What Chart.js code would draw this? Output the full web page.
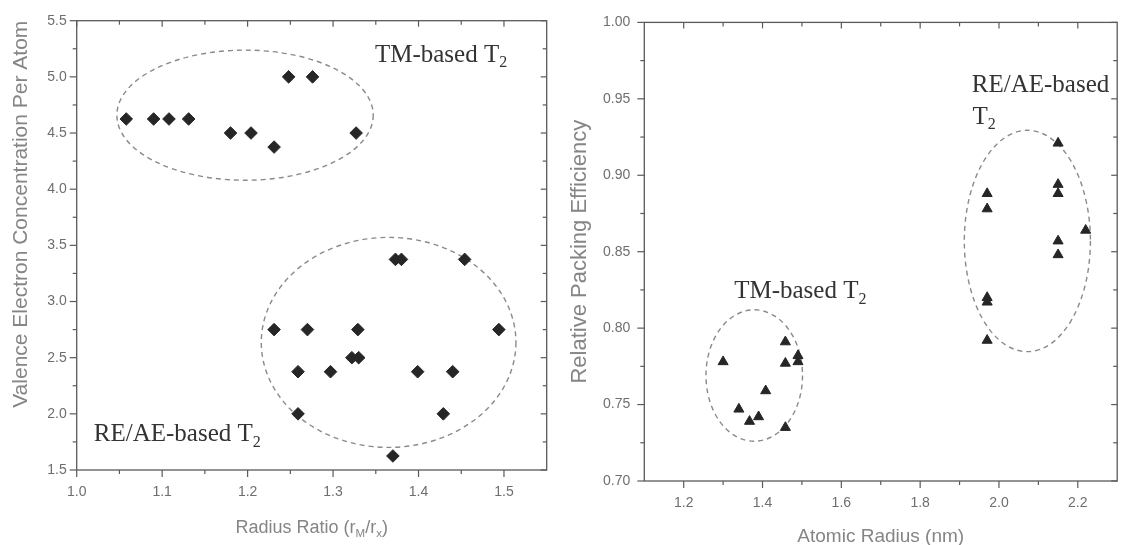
<!DOCTYPE html>
<html><head><meta charset="utf-8">
<script src="https://cdn.jsdelivr.net/npm/chart.js@4/dist/chart.umd.min.js"></script>
<style>
html,body{margin:0;padding:0;background:#fff;}
#wrap{position:relative;width:1124px;height:545px;overflow:hidden;}
canvas{position:absolute;top:0;}
#c1{left:0}
#c2{left:560px}
</style></head><body>
<div id="wrap"><canvas id="c1" width="560" height="545"></canvas><canvas id="c2" width="564" height="545"></canvas></div>
<script>
// ---------- DATA ----------
// Left panel: radius ratio vs valence electron concentration
const leftTMx = [1.058, 1.090, 1.108, 1.131, 1.180, 1.204, 1.231, 1.248, 1.276, 1.327];
const leftTMy = [4.625, 4.625, 4.625, 4.625, 4.5, 4.5, 4.375, 5.0, 5.0, 4.5];
const leftREx = [1.231, 1.270, 1.329, 1.494, 1.373, 1.380, 1.454, 1.322, 1.330, 1.259, 1.297, 1.399, 1.440, 1.259, 1.429, 1.370];
const leftREy = [2.75, 2.75, 2.75, 2.75, 3.375, 3.375, 3.375, 2.5, 2.5, 2.375, 2.375, 2.375, 2.375, 2.0, 2.0, 1.625];
const leftXTicks = [1.0, 1.1, 1.2, 1.3, 1.4, 1.5];
const leftYTicks = [1.5, 2.0, 2.5, 3.0, 3.5, 4.0, 4.5, 5.0, 5.5];

// Right panel: atomic radius vs relative packing efficiency
const rightTMx = [1.30, 1.34, 1.367, 1.39, 1.408, 1.458, 1.458, 1.458, 1.49, 1.49];
const rightTMy = [0.778, 0.747, 0.739, 0.742, 0.759, 0.791, 0.777, 0.735, 0.782, 0.778];
const rightREx = [1.97, 1.97, 1.97, 1.97, 1.97, 2.15, 2.15, 2.15, 2.15, 2.15, 2.22];
const rightREy = [0.888, 0.878, 0.820, 0.817, 0.792, 0.921, 0.894, 0.888, 0.857, 0.848, 0.864];
const rightXTicks = [1.2, 1.4, 1.6, 1.8, 2.0, 2.2];
const rightYTicks = [0.70, 0.75, 0.80, 0.85, 0.90, 0.95, 1.00];

// ---------- STYLE ----------
const SANS = "'Liberation Sans', Arial, sans-serif";
const SERIF = "'Liberation Serif', 'Times New Roman', serif";
const AXIS_COLOR = '#5a5a5a';
const TICK_TEXT = '#6e6e6e';
const TITLE_TEXT = '#858585';
const NOTE_TEXT = '#333333';
const MARK = '#262626';

function pts(xs, ys){ return xs.map((x,i)=>({x:x, y:ys[i]})); }

function drawRich(ctx, x, y, parts, size, family, color, align){
  ctx.save();
  ctx.fillStyle = color; ctx.textBaseline = 'alphabetic'; ctx.textAlign = 'left';
  let total = 0;
  for (const p of parts){
    ctx.font = (p.sub ? size*0.64 : size) + 'px ' + family;
    total += ctx.measureText(p.t).width;
  }
  let cx = align === 'center' ? x - total/2 : x;
  for (const p of parts){
    const s = p.sub ? size*0.64 : size;
    ctx.font = s + 'px ' + family;
    ctx.fillText(p.t, cx, y + (p.sub ? size*0.22 : 0));
    cx += ctx.measureText(p.t).width;
  }
  ctx.restore();
}

function minors(majors, min, max){
  const out = [];
  const step = majors[1]-majors[0];
  const cand = [majors[0]-step/2];
  for (let i=0;i<majors.length;i++) cand.push(majors[i]+step/2);
  for (const v of cand) if (v > min + 1e-9 && v < max - 1e-9) out.push(v);
  return out;
}

const ellipsePlugin = {
  id:'ellipses',
  beforeDatasetsDraw(chart, args, o){
    const {ctx, scales:{x,y}} = chart;
    ctx.save();
    ctx.strokeStyle = o.color; ctx.lineWidth = o.width; ctx.setLineDash(o.dash);
    for (const e of o.items){
      const cx = x.getPixelForValue(e.cx), cy = y.getPixelForValue(e.cy);
      const rx = Math.abs(x.getPixelForValue(e.cx+e.rx)-cx);
      const ry = Math.abs(y.getPixelForValue(e.cy+e.ry)-cy);
      ctx.beginPath(); ctx.ellipse(cx, cy, rx, ry, 0, 0, Math.PI*2); ctx.stroke();
    }
    ctx.restore();
  }
};

const framePlugin = {
  id:'frame',
  afterDatasetsDraw(chart, args, o){
    const {ctx, chartArea:a, scales:{x,y}} = chart;
    ctx.save();
    ctx.strokeStyle = AXIS_COLOR; ctx.lineWidth = 1.3;
    ctx.strokeRect(a.left, a.top, a.right-a.left, a.bottom-a.top);
    ctx.lineWidth = 1.2;
    const xm = x.ticks.map(t=>t.value), ym = y.ticks.map(t=>t.value);
    const xn = minors(xm, x.min, x.max), yn = minors(ym, y.min, y.max);
    const line = (x1,y1,x2,y2)=>{ctx.beginPath();ctx.moveTo(x1,y1);ctx.lineTo(x2,y2);ctx.stroke();};
    const M = o.major, m = o.minor;
    for (const v of xm){ const p = x.getPixelForValue(v); line(p,a.bottom,p,a.bottom+M); line(p,a.top,p,a.top+M-1); }
    for (const v of xn){ const p = x.getPixelForValue(v); line(p,a.bottom,p,a.bottom+m); line(p,a.top,p,a.top+m); }
    for (const v of ym){ const p = y.getPixelForValue(v); line(a.left-M,p,a.left,p); line(a.right,p,a.right-M+1,p); }
    for (const v of yn){ const p = y.getPixelForValue(v); line(a.left-m,p,a.left,p); line(a.right,p,a.right-m,p); }
    ctx.restore();
  }
};

const notesPlugin = {
  id:'notes',
  afterDatasetsDraw(chart, args, o){
    const {ctx, scales:{x,y}} = chart;
    for (const n of o.items){
      drawRich(ctx, x.getPixelForValue(n.x), y.getPixelForValue(n.y), n.parts, o.size, SERIF, NOTE_TEXT, 'left');
    }
    if (o.xTitle){
      const a = chart.chartArea;
      drawRich(ctx, (a.left+a.right)/2, o.xTitle.baseline, o.xTitle.parts, o.xTitle.size, SANS, TITLE_TEXT, 'center');
    }
  }
};

function scaleOpts(min, max, ticks, fmt, pad, fit, title){
  return {
    type:'linear', min:min, max:max,
    afterBuildTicks: s => { s.ticks = ticks.map(v=>({value:v})); },
    afterFit: fit,
    ticks:{ callback: v => Number(v).toFixed(fmt), color:TICK_TEXT, font:{family:SANS, size:14}, padding:pad, maxRotation:0, autoSkip:false },
    grid:{ display:false, drawTicks:false },
    border:{ display:false },
    title: title || {display:false}
  };
}

function dataset(xs, ys, style, r){
  return { data: pts(xs, ys), pointStyle: style, pointRadius: r, pointHoverRadius: r,
           backgroundColor: MARK, borderColor: MARK, borderWidth: 1, showLine:false };
}

Chart.defaults.animation = false;

new Chart(document.getElementById('c1'), {
  type:'scatter',
  data:{ datasets:[ dataset(leftTMx, leftTMy, 'rectRot', 6.3), dataset(leftREx, leftREy, 'rectRot', 6.3) ] },
  options:{
    responsive:false, devicePixelRatio:1, animation:false,
    layout:{ padding:{ top:20.7, right:13.3, left:0, bottom:0 } },
    plugins:{
      legend:{display:false}, tooltip:{enabled:false},
      ellipses:{ color:'#8a8a8a', width:1.4, dash:[5,4], items:[
        {cx:1.197, cy:4.659, rx:0.150, ry:0.579},
        {cx:1.365, cy:2.636, rx:0.149, ry:0.935} ] },
      frame:{ major:7, minor:4 },
      notes:{ size:25, items:[
        {x:1.349, y:5.133, parts:[{t:'TM-based T'},{t:'2',sub:true}]},
        {x:1.020, y:1.757, parts:[{t:'RE/AE-based T'},{t:'2',sub:true}]} ],
        xTitle:{ baseline:533, size:18, parts:[{t:'Radius Ratio (r'},{t:'M',sub:true},{t:'/r'},{t:'x',sub:true},{t:')'}] } }
    },
    scales:{
      x: scaleOpts(1.0, 1.55, leftXTicks, 1, 14, s=>{ s.height = 75; }),
      y: scaleOpts(1.5, 5.5, leftYTicks, 1, 10, s=>{ s.width = 76.7; },
         {display:true, text:'Valence Electron Concentration Per Atom', align:'end', color:TITLE_TEXT,
          font:{family:SANS, size:21}, padding:{top:8.5, bottom:0}})
    }
  },
  plugins:[ellipsePlugin, framePlugin, notesPlugin]
});

new Chart(document.getElementById('c2'), {
  type:'scatter',
  data:{ datasets:[ dataset(rightTMx, rightTMy, 'triangle', 5.8), dataset(rightREx, rightREy, 'triangle', 5.8) ] },
  options:{
    responsive:false, devicePixelRatio:1, animation:false,
    layout:{ padding:{ top:21.7, right:3.3, left:0, bottom:0 } },
    plugins:{
      legend:{display:false}, tooltip:{enabled:false},
      ellipses:{ color:'#8a8a8a', width:1.4, dash:[5,4], items:[
        {cx:1.379, cy:0.769, rx:0.1225, ry:0.043},
        {cx:2.072, cy:0.857, rx:0.160, ry:0.0724} ] },
      frame:{ major:7, minor:4 },
      notes:{ size:25, items:[
        {x:1.931, y:0.9547, parts:[{t:'RE/AE-based'}]},
        {x:1.933, y:0.9336, parts:[{t:'T'},{t:'2',sub:true}]},
        {x:1.328, y:0.8194, parts:[{t:'TM-based T'},{t:'2',sub:true}]} ] }
    },
    scales:{
      x: scaleOpts(1.1, 2.3, rightXTicks, 1, 13.3, s=>{ s.height = 64; },
         {display:true, text:'Atomic Radius (nm)', color:TITLE_TEXT, font:{family:SANS, size:19},
          padding:{top:0, bottom:-3}}),
      y: scaleOpts(0.70, 1.00, rightYTicks, 2, 14, s=>{ s.width = 84.3; },
         {display:true, text:'Relative Packing Efficiency', color:TITLE_TEXT,
          font:{family:SANS, size:22}, padding:{top:6.6, bottom:0}})
    }
  },
  plugins:[ellipsePlugin, framePlugin, notesPlugin]
});
</script>
</body></html>
